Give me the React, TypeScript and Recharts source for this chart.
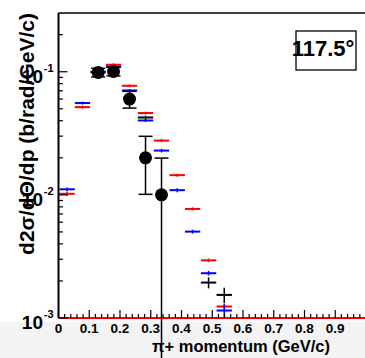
import React from 'react';
import { ScatterChart, Scatter, XAxis, YAxis, ErrorBar, ReferenceLine } from 'recharts';

// bin centres (GeV/c)
const binCenters = [0.028, 0.078, 0.129, 0.179, 0.231, 0.283, 0.335, 0.386, 0.436, 0.488, 0.539];
const binHalfWidth = 0.025;

// red series
const redValues = [0.0102, 0.0516, 0.1, 0.114, 0.0769, 0.0462, 0.0276, 0.01446, 0.00769, 0.00294, 0.00124];
const redErrors = [0.0004, 0.0015, 0.003, 0.003, 0.002, 0.0012, 0.0008, 0.0004, 0.00022, 0.0001, 0.00006];

// blue series
const blueValues = [0.0111, 0.0557, 0.099, 0.11, 0.0705, 0.0402, 0.0229, 0.01092, 0.00503, 0.00231, 0.00115];
const blueErrors = [0.0004, 0.0015, 0.003, 0.003, 0.002, 0.0012, 0.0008, 0.0004, 0.00018, 0.0001, 0.00014];

// black data points (circles)
const dataBins = [0.129, 0.179, 0.231, 0.283, 0.335];
const dataValues = [0.0987, 0.1005, 0.06, 0.02, 0.01];
const dataErrors = [0.008, 0.008, 0.0093, 0.0099, 0.0099];

// black crosses
const blackBins = [0.283, 0.488, 0.539];
const blackValues = [0.0425, 0.00194, 0.00154];
const blackErrors = [0.0015, 0.0002, 0.00022];

const xMajorTicks = [0, 0.1, 0.2, 0.3, 0.4, 0.5, 0.6, 0.7, 0.8, 0.9];
const xTicks = Array.from({ length: 50 }, (_, i) => +(i * 0.02).toFixed(2));
const yMajorTicks = [0.001, 0.01, 0.1];
const yMajorLabels = ['-3', '-2', '-1'];
const yTicks = [
  0.001, 0.002, 0.003, 0.004, 0.005, 0.006, 0.007, 0.008, 0.009,
  0.01, 0.02, 0.03, 0.04, 0.05, 0.06, 0.07, 0.08, 0.09,
  0.1, 0.2,
];

const angleLabel = '117.5°';
const xTitle = 'π+ momentum (GeV/c)';
const yTitle = 'd2σ/dΘ/dp (b/rad/GeV/c)';

const build = (xs: number[], ys: number[], es: number[]) =>
  xs.map((x, i) => ({ x, y: ys[i], ex: binHalfWidth, ey: es[i] }));

const redData = build(binCenters, redValues, redErrors);
const blueData = build(binCenters, blueValues, blueErrors);
const blackData = build(blackBins, blackValues, blackErrors);
const circleData = dataBins.map((x, i) => ({ x, y: dataValues[i], ey: dataErrors[i] }));

const FONT = '"Liberation Sans", Arial, Helvetica, sans-serif';

const Empty = () => <g />;
const Dot = (p: any) => <circle cx={p.cx} cy={p.cy} r={6.5} fill="#000" />;

const isMajorX = (v: number) => xMajorTicks.some((m) => Math.abs(m - v) < 1e-6);

const XTick = (props: any) => {
  const { x, y, payload } = props;
  const v = payload.value;
  const major = isMajorX(v);
  return (
    <g>
      <line x1={x} x2={x} y1={y} y2={y - (major ? 8 : 4)} stroke="#000" strokeWidth={1.2} />
      {major && (
        <text x={x} y={y + 15} textAnchor="middle" fontFamily={FONT} fontWeight="bold" fontSize={13.5} fill="#000">
          {String(v)}
        </text>
      )}
    </g>
  );
};

const YTick = (props: any) => {
  const { x, y, payload } = props;
  const v = payload.value;
  const idx = yMajorTicks.findIndex((m) => Math.abs(m - v) / m < 1e-6);
  const major = idx >= 0;
  return (
    <g>
      <line x1={x} x2={x + (major ? 9 : 4.5)} y1={y} y2={y} stroke="#000" strokeWidth={1.2} />
      {major && (
        <g>
          <text x={x - 15.5} y={y + 11} textAnchor="end" fontFamily={FONT} fontWeight="bold" fontSize={19} fill="#000">
            10
          </text>
          <text x={x - 5} y={y} textAnchor="end" fontFamily={FONT} fontWeight="bold" fontSize={11} fill="#000">
            {yMajorLabels[idx]}
          </text>
        </g>
      )}
    </g>
  );
};

export default function App() {
  return (
    <div style={{ position: 'absolute', left: 0, top: 0, width: 365, height: 358, overflow: 'hidden', background: '#fff' }}>
      <div style={{ position: 'absolute', left: 0, top: 322, width: 365, height: 36, background: '#f3f3f3' }} />
      <div style={{ position: 'absolute', left: 0, top: 0 }}>
        <ScatterChart width={370} height={358} margin={{ top: 13, right: 4, bottom: 0, left: 0 }}>
          <XAxis
            dataKey="x"
            type="number"
            domain={[0, 1]}
            ticks={xTicks}
            interval={0}
            allowDataOverflow
            axisLine={false}
            tickLine={false}
            tickSize={0}
            tickMargin={0}
            height={40}
            tick={<XTick />}
          />
          <YAxis
            dataKey="y"
            type="number"
            scale="log"
            domain={[0.001, 0.3]}
            ticks={yTicks}
            interval={0}
            allowDataOverflow
            axisLine={{ stroke: '#000', strokeWidth: 2 }}
            tickLine={false}
            tickSize={0}
            tickMargin={0}
            width={58.5}
            tick={<YTick />}
          />
          <ReferenceLine y={0.3} stroke="#000" strokeWidth={1.5} />
          <ReferenceLine y={0.001} stroke="#ff0000" strokeWidth={2} />
          <Scatter data={redData} fill="#ff0000" shape={<Empty />} isAnimationActive={false}>
            <ErrorBar dataKey="ex" direction="x" width={0} stroke="#ff0000" strokeWidth={2} />
            <ErrorBar dataKey="ey" direction="y" width={0} stroke="#ff0000" strokeWidth={1.5} />
          </Scatter>
          <Scatter data={blueData} fill="#0000ff" shape={<Empty />} isAnimationActive={false}>
            <ErrorBar dataKey="ex" direction="x" width={0} stroke="#0000ff" strokeWidth={2} />
            <ErrorBar dataKey="ey" direction="y" width={0} stroke="#0000ff" strokeWidth={1.5} />
          </Scatter>
          <Scatter data={blackData} fill="#000" shape={<Empty />} isAnimationActive={false}>
            <ErrorBar dataKey="ex" direction="x" width={0} stroke="#000" strokeWidth={2} />
            <ErrorBar dataKey="ey" direction="y" width={0} stroke="#000" strokeWidth={1.5} />
          </Scatter>
          <Scatter data={circleData} fill="#000" shape={<Dot />} isAnimationActive={false}>
            <ErrorBar dataKey="ey" direction="y" width={7} stroke="#000" strokeWidth={1.5} />
          </Scatter>
        </ScatterChart>
      </div>
      <svg width={365} height={358} style={{ position: 'absolute', left: 0, top: 0, pointerEvents: 'none' }}>
        <text
          transform="translate(34,13) rotate(-90)"
          textAnchor="end"
          fontFamily={FONT}
          fontWeight="bold"
          fontSize={21}
          fill="#000"
        >
          {yTitle}
        </text>
        <text x={330} y={352} textAnchor="end" fontFamily={FONT} fontWeight="bold" fontSize={16.5} fill="#000">
          {xTitle}
        </text>
        <rect x={296} y={31} width={60} height={39} fill="#fff" stroke="#000" strokeWidth={1.3} />
        <text x={323} y={56} textAnchor="middle" fontFamily={FONT} fontWeight="bold" fontSize={22} fill="#000">
          {angleLabel}
        </text>
      </svg>
    </div>
  );
}
